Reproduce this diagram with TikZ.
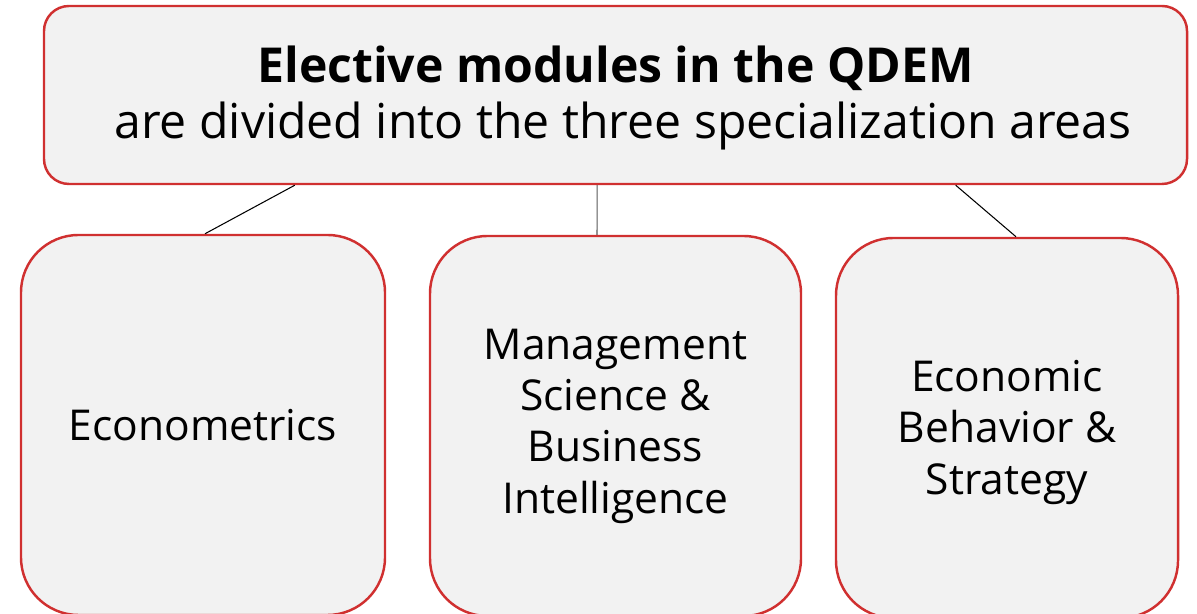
\documentclass[tikz,border=0pt]{standalone}
\usepackage{fontspec}
\setmainfont{Open Sans}
\usetikzlibrary{calc}
\definecolor{qred}{RGB}{208,48,48}
\definecolor{qgray}{RGB}{242,242,242}
\tikzset{
    head/.style =   {rectangle,
                    rounded corners=0.5cm,
                    fill=qgray,
                    draw=qred,
                    line width=1.4pt,
                    text=black,
                    align=center,
                    font=\fontsize{27.4}{31.6}\selectfont,
                    minimum width=22.86cm,
                    minimum height=3.56cm},
    area/.style =   {rectangle,
                    rounded corners=1.15cm,
                    fill=qgray,
                    draw=qred,
                    line width=1.4pt,
                    text=black,
                    align=center,
                    font=\fontsize{24.2}{29.2}\selectfont,
                    minimum height=7.6cm},
    link/.style =   {draw=black,
                    line width=0.6pt},
}

\begin{document}
\begin{tikzpicture}
                \useasboundingbox (0,0) rectangle (23.94,12.28);
                \node[head] (qdem) at (12.31,10.38)
                    {\rule{0pt}{0.86cm}\textbf{Elective modules in the QDEM}\\
                     \hspace{0.3cm}are divided into the three specialization areas};
                \node[area,minimum width=7.28cm] (econ) at (4.06,3.78)  {Econometrics};
                \node[area,minimum width=7.42cm] (msbi) at (12.31,3.76) {Management\\Science \&\\Business\\Intelligence};
                \node[area,minimum width=6.84cm] (ebs)  at (20.14,3.72) {\rule{0pt}{0.8cm}Economic\\Behavior \&\\Strategy};
                \path [link]    ($(qdem.south west)!0.22!(qdem.south east)$)  edge ([xshift=0.04cm]econ.north)
                                ($(qdem.south west)!0.484!(qdem.south east)$) edge [draw=black!65] ([xshift=-0.37cm]msbi.north)
                                ($(qdem.south west)!0.797!(qdem.south east)$) edge ([xshift=0.18cm]ebs.north);
\end{tikzpicture}
\end{document}
